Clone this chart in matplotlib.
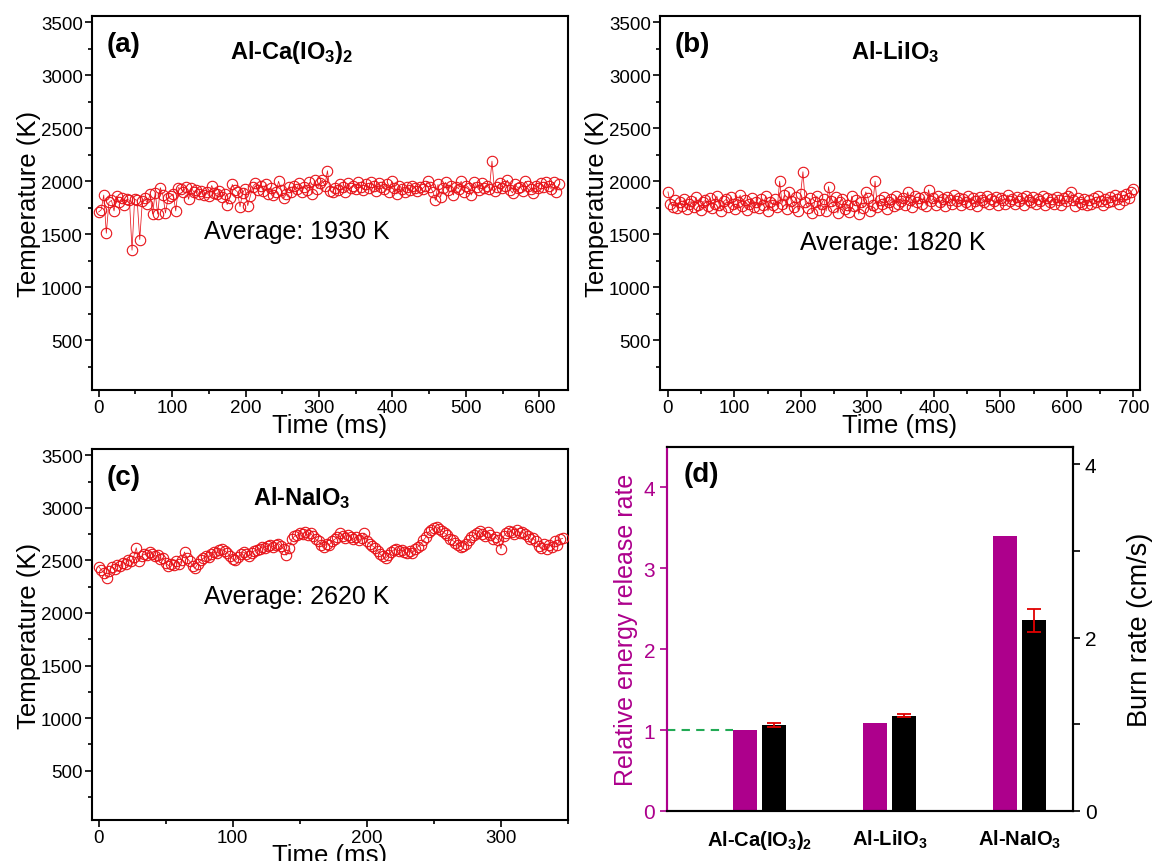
import numpy as np
import matplotlib
matplotlib.use("Agg")
import matplotlib.pyplot as plt
from matplotlib.ticker import MultipleLocator, FixedLocator

plt.rcParams['font.family'] = ['Liberation Sans', 'DejaVu Sans']
plt.rcParams['mathtext.fontset'] = 'custom'
plt.rcParams['mathtext.rm'] = 'Liberation Sans:bold'
plt.rcParams['mathtext.it'] = 'Liberation Sans:bold'
plt.rcParams['mathtext.bf'] = 'Liberation Sans:bold'
plt.rcParams['mathtext.default'] = 'regular'

# ---------------- data ----------------
# (a) Al-Ca(IO3)2, sample interval 3.5 ms
a_dt = 3.5
a_temp = [
    1710, 1730, 1870, 1510, 1800, 1820, 1720, 1860, 1800, 1840,
    1780, 1830, 1820, 1350, 1830, 1820, 1450, 1810, 1840, 1790,
    1880, 1690, 1890, 1690, 1940, 1870, 1700, 1840, 1860, 1880,
    1720, 1940, 1930, 1900, 1950, 1830, 1940, 1900, 1920, 1880,
    1910, 1870, 1900, 1860, 1960, 1890, 1880, 1910, 1850, 1880,
    1780, 1840, 1970, 1920, 1900, 1760, 1890, 1930, 1770, 1860,
    1950, 1980, 1920, 1960, 1910, 1970, 1880, 1940, 1870, 1900,
    2000, 1920, 1840, 1880, 1950, 1900, 1960, 1930, 1980, 1900,
    1950, 1920, 1990, 1880, 2010, 1930, 1980, 2010, 1960, 2100,
    1910, 1900, 1940, 1920, 1970, 1950, 1900, 1980, 1940, 1960,
    1930, 1990, 1950, 1920, 1970, 1940, 1990, 1960, 1910, 1980,
    1950, 1930, 1970, 1900, 2000, 1940, 1880, 1960, 1930, 1900,
    1950, 1920, 1960, 1940, 1910, 1950, 1930, 1960, 2000, 1950,
    1900, 1820, 1970, 1850, 1940, 1990, 1920, 1960, 1870, 1950,
    1930, 2000, 1900, 1960, 1940, 1870, 1990, 1950, 1920, 1980,
    1940, 1960, 1930, 2190, 1910, 1950, 1980, 1940, 1960, 2010,
    1920, 1890, 1970, 1940, 1950, 1910, 2000, 1960, 1930, 1890,
    1960, 1940, 1980, 1950, 1990, 1960, 1930, 1990, 1900, 1970,
]

# (b) Al-LiIO3, sample interval 3.5 ms
b_dt = 3.5
b_temp = [
    1900, 1790, 1760, 1820, 1750, 1800, 1770, 1830, 1740, 1790,
    1810, 1760, 1850, 1780, 1730, 1800, 1820, 1770, 1840, 1750,
    1790, 1860, 1780, 1720, 1810, 1830, 1760, 1850, 1790, 1740,
    1800, 1870, 1770, 1820, 1730, 1790, 1840, 1760, 1800, 1750,
    1830, 1780, 1860, 1720, 1800, 1780, 1830, 1760, 2000, 1790,
    1870, 1740, 1900, 1810, 1760, 1850, 1720, 1880, 2090, 1800,
    1750, 1840, 1700, 1800, 1860, 1730, 1790, 1830, 1720, 1950,
    1810, 1760, 1850, 1700, 1800, 1830, 1740, 1780, 1710, 1860,
    1770, 1820, 1690, 1800, 1750, 1900, 1840, 1720, 1780, 2000,
    1760, 1820, 1790, 1850, 1740, 1800, 1830, 1770, 1860, 1790,
    1810, 1840, 1780, 1900, 1820, 1760, 1860, 1800, 1840, 1790,
    1850, 1770, 1920, 1810, 1840, 1780, 1860, 1800, 1830, 1770,
    1850, 1820, 1790, 1870, 1810, 1840, 1780, 1830, 1800, 1860,
    1790, 1840, 1810, 1770, 1850, 1820, 1800, 1860, 1790, 1830,
    1810, 1850, 1780, 1840, 1820, 1790, 1870, 1810, 1830, 1790,
    1850, 1810, 1840, 1780, 1860, 1820, 1800, 1850, 1790, 1830,
    1810, 1860, 1780, 1840, 1800, 1830, 1790, 1850, 1820, 1780,
    1840, 1810, 1860, 1900, 1820, 1770, 1840, 1800, 1790, 1830,
    1780, 1820, 1790, 1840, 1800, 1860, 1810, 1780, 1830, 1800,
    1850, 1810, 1870, 1830, 1790, 1860, 1820, 1880, 1840, 1900,
    1930,
]

# (c) Al-NaIO3, sample interval 2 ms
c_dt = 2.0
c_temp = [
    2440, 2410, 2380, 2330, 2400, 2440, 2420, 2460, 2450, 2480,
    2470, 2500, 2490, 2530, 2620, 2490, 2540, 2560, 2550, 2580,
    2560, 2540, 2550, 2510, 2520, 2480, 2450, 2470, 2460, 2490,
    2470, 2500, 2580, 2520, 2490, 2450, 2430, 2470, 2500, 2520,
    2540, 2530, 2560, 2580, 2570, 2600, 2610, 2590, 2570, 2540,
    2510, 2500, 2530, 2560, 2580, 2560, 2540, 2570, 2590, 2600,
    2610, 2630, 2620, 2640, 2650, 2630, 2650, 2660, 2640, 2610,
    2550, 2620, 2700, 2730, 2740, 2760, 2750, 2770, 2740, 2760,
    2730, 2700, 2680, 2650, 2630, 2660, 2650, 2680, 2700, 2720,
    2760, 2730, 2710, 2740, 2720, 2700, 2720, 2690, 2710, 2760,
    2680, 2660, 2640, 2620, 2590, 2560, 2540, 2520, 2550, 2580,
    2600, 2610, 2590, 2600, 2580, 2570, 2590, 2570, 2610, 2630,
    2650, 2690, 2720, 2770, 2790, 2810, 2820, 2800, 2780, 2760,
    2740, 2700, 2690, 2670, 2650, 2630, 2640, 2660, 2690, 2720,
    2740, 2760, 2780, 2750, 2730, 2770, 2740, 2700, 2720, 2690,
    2610, 2730, 2760, 2780, 2770, 2750, 2790, 2760, 2770, 2750,
    2730, 2700, 2710, 2680, 2640, 2620, 2660, 2610, 2650, 2630,
    2680, 2650, 2700, 2710,
]

# (d) bar chart
categories = ['Al-Ca(IO$_3$)$_2$', 'Al-LiIO$_3$', 'Al-NaIO$_3$']
energy_rate = [1.0, 1.09, 3.40]
burn_rate = [0.99, 1.10, 2.20]
burn_err = [0.02, 0.02, 0.13]

panel_titles = ['Al-Ca(IO$_3$)$_2$', 'Al-LiIO$_3$', 'Al-NaIO$_3$']
averages = ['Average: 1930 K', 'Average: 1820 K', 'Average: 2620 K']

# ---------------- figure ----------------
RED = '#E8141A'
MAG = '#AD008C'
fig = plt.figure(figsize=(11.58, 8.62), dpi=100)

def fx(px):
    return px / 1158.0

def fy(py):
    return 1 - py / 862.0

def make_axes(l, r, t, b):
    return fig.add_axes([fx(l), fy(b), fx(r) - fx(l), fy(t) - fy(b)])

ax_a = make_axes(92, 568, 17, 391)
ax_b = make_axes(660, 1140, 17, 391)
ax_c = make_axes(92, 568, 450, 821)
ax_d = make_axes(667, 1073, 448, 812)

TICK_FS = 13.5
LAB_FS = 18.5

def temp_panel(ax, temps, dt, xlim, xmaj, letter, title, avg, title_pos, avg_pos):
    t = np.arange(len(temps)) * dt
    ax.plot(t, temps, '-', color=RED, lw=0.55, zorder=2)
    ax.plot(t, temps, 'o', mfc='none', mec=RED, mew=0.8, ms=7.5, zorder=3)
    ax.set_xlim(*xlim)
    ax.set_ylim(30, 3560)
    ax.yaxis.set_major_locator(FixedLocator([500, 1000, 1500, 2000, 2500, 3000, 3500]))
    ax.yaxis.set_minor_locator(MultipleLocator(250))
    ax.xaxis.set_major_locator(MultipleLocator(xmaj))
    ax.xaxis.set_minor_locator(MultipleLocator(xmaj / 2))
    ax.tick_params(which='both', direction='out', top=False, right=False,
                   labelsize=TICK_FS, width=1.2, pad=1.5)
    ax.tick_params(which='major', length=5)
    ax.tick_params(which='minor', length=3)
    for s in ax.spines.values():
        s.set_linewidth(1.5)
    ax.set_xlabel('Time (ms)', fontsize=LAB_FS, labelpad=-2)
    ax.set_ylabel('Temperature (K)', fontsize=LAB_FS, labelpad=0)
    ax.text(0.03, 0.925, letter, transform=ax.transAxes, fontsize=20,
            fontweight='bold', va='center', ha='left')
    ax.text(title_pos[0], title_pos[1], title, transform=ax.transAxes,
            fontsize=17, fontweight='bold', va='center', ha='center')
    ax.text(avg_pos[0], avg_pos[1], avg, transform=ax.transAxes,
            fontsize=18, va='center', ha='center')

temp_panel(ax_a, a_temp, a_dt, (-9, 639), 100, '(a)', panel_titles[0], averages[0],
           (0.42, 0.905), (0.43, 0.425))
temp_panel(ax_b, b_temp, b_dt, (-12, 710), 100, '(b)', panel_titles[1], averages[1],
           (0.49, 0.905), (0.485, 0.395))
temp_panel(ax_c, c_temp, c_dt, (-5, 350), 100, '(c)', panel_titles[2], averages[2],
           (0.44, 0.87), (0.43, 0.605))

# ---------------- panel (d) ----------------
x = np.arange(len(categories))
w = 0.185
off = 0.112
ax_d.bar(x - off, energy_rate, width=w, color=MAG, zorder=2)
ax_d.set_xlim(-0.715, 2.41)
ax_d.set_ylim(0, 4.5)
ax_d.plot([-0.715, 0 - off - w / 2], [1, 1], ls=(0, (4, 3)), color='#22AA55', lw=1.5, zorder=3)
ax_d.set_xticks(x)
ax_d.set_xticklabels(categories, fontsize=14.5, fontweight='bold')
ax_d.tick_params(axis='x', length=0, pad=12)
ax_d.set_yticks([0, 1, 2, 3, 4])
ax_d.tick_params(axis='y', colors=MAG, labelsize=15, direction='out', length=5, width=1.2)
ax_d.set_ylabel('Relative energy release rate', color=MAG, fontsize=18, labelpad=4)
ax_d.spines['left'].set_color(MAG)
for s in ax_d.spines.values():
    s.set_linewidth(1.5)
ax_d.text(0.04, 0.925, '(d)', transform=ax_d.transAxes, fontsize=20,
          fontweight='bold', va='center', ha='left')

ax_r = ax_d.twinx()
ax_r.bar(x + off, burn_rate, width=w, color='black', zorder=2)
ax_r.errorbar(x + off, burn_rate, yerr=burn_err, fmt='none', ecolor='#E00000',
              elinewidth=1.3, capsize=5, capthick=1.3, zorder=4)
ax_r.set_ylim(0, 4.2)
ax_r.yaxis.set_major_locator(FixedLocator([0, 2, 4]))
ax_r.yaxis.set_minor_locator(FixedLocator([1, 3]))
ax_r.tick_params(which='both', direction='out', labelsize=15, width=1.2)
ax_r.tick_params(which='major', length=5)
ax_r.tick_params(which='minor', length=5)
ax_r.set_ylabel('Burn rate (cm/s)', fontsize=19.5, labelpad=22)
for s in ax_r.spines.values():
    s.set_linewidth(1.5)
ax_r.spines['left'].set_color(MAG)

fig.savefig('out.png', dpi=100)
